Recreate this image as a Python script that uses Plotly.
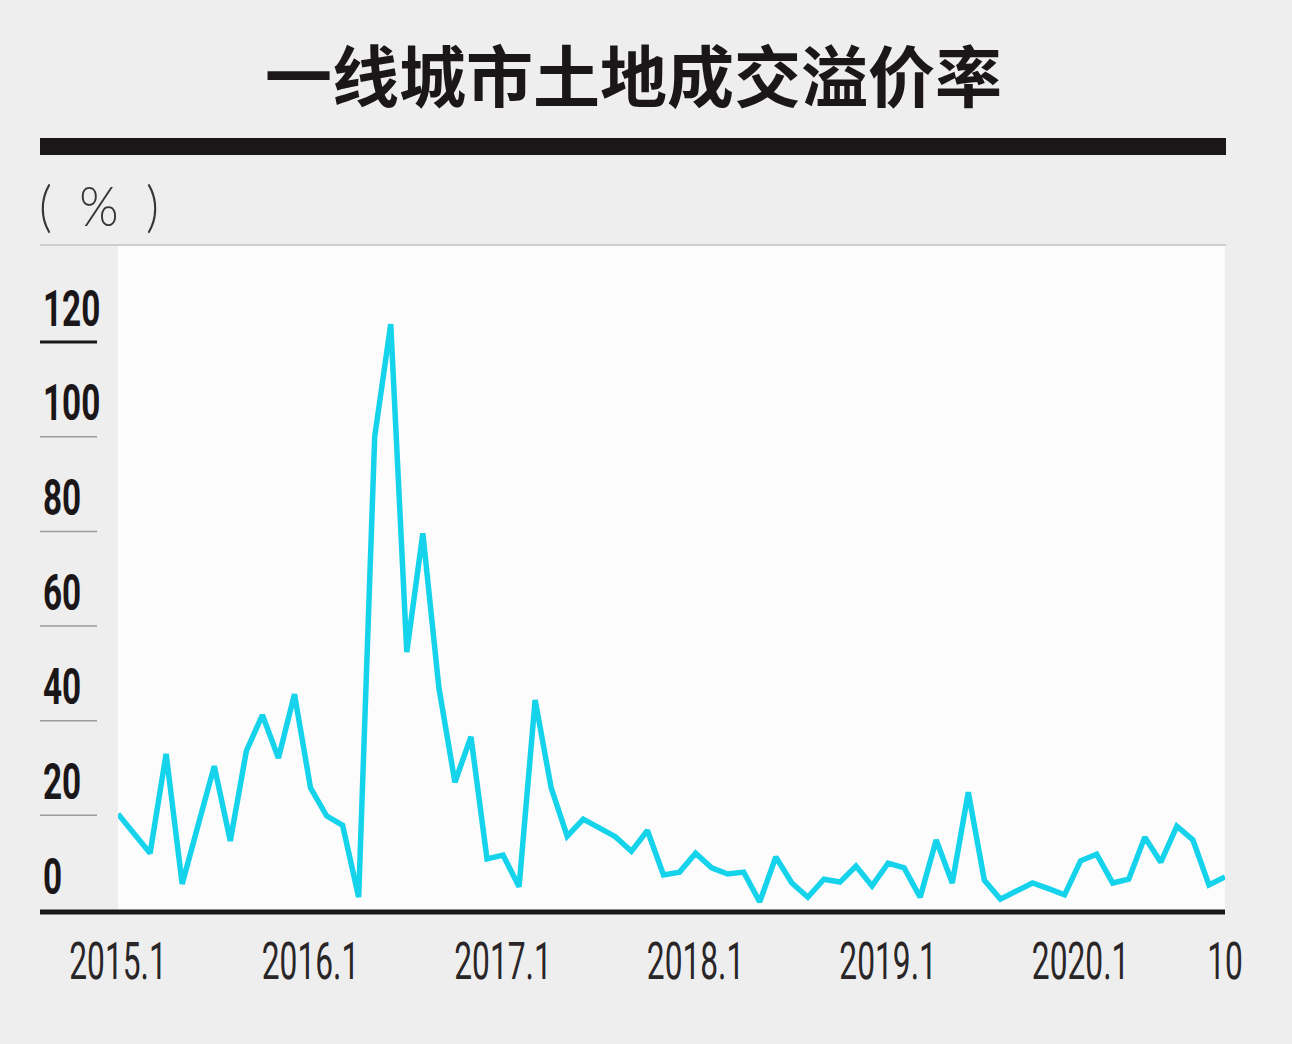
import plotly.graph_objects as go

# ---- data ----
months = list(range(70))  # 2015.1 .. 2020.10
premium = [20.3, 16.1, 12.0, 33.0, 5.5, 18.0, 30.4, 14.6, 33.6, 41.2,
           32.1, 45.6, 25.8, 19.9, 17.9, 2.7, 100.0, 123.8, 54.5, 79.6,
           47.0, 27.0, 36.6, 10.8, 11.6, 4.9, 44.4, 25.8, 15.6, 19.2,
           17.2, 15.5, 12.4, 16.8, 7.4, 8.0, 12.0, 8.9, 7.6, 8.0,
           1.7, 11.2, 5.7, 2.7, 6.5, 5.9, 9.3, 5.1, 9.9, 8.9,
           2.7, 14.8, 5.7, 24.9, 6.3, 2.3, 4.0, 5.7, 4.5, 3.2,
           10.4, 11.8, 5.7, 6.5, 15.4, 10.1, 17.7, 14.8, 5.3, 7.0]
x_tickvals = [0, 12, 24, 36, 48, 60, 69]
x_ticktext = ["2015.1", "2016.1", "2017.1", "2018.1", "2019.1", "2020.1", "10"]
y_ticks = [0, 20, 40, 60, 80, 100, 120]
title_text = "一线城市土地成交溢价率"
unit_text = "(&nbsp;&nbsp;%&nbsp;&nbsp;)"

# ---- geometry helpers (pixel -> paper) ----
W, H = 1292, 1044
L, R, T, B = 118, 1225, 246, 910
def xp(px):
    return (px - L) / (R - L)
def yp(py):
    return (B - py) / (B - T)

NUMFONT = "Roboto, Liberation Sans, sans-serif"

fig = go.Figure()
fig.add_trace(go.Scatter(
    x=months, y=premium, mode="lines",
    line=dict(color="#14d3ea", width=5.5),
    hoverinfo="skip", showlegend=False,
))

shapes = []
annotations = []

# thick title bar
shapes.append(dict(type="rect", xref="paper", yref="paper",
                   x0=xp(40), x1=xp(1226), y0=yp(155), y1=yp(138),
                   fillcolor="#1b1718", line=dict(width=0), layer="above"))
# thin gray top line
shapes.append(dict(type="line", xref="paper", yref="paper",
                   x0=xp(40), x1=xp(1226), y0=yp(245), y1=yp(245),
                   line=dict(color="#cfcdcf", width=2)))
# bottom axis line
shapes.append(dict(type="rect", xref="paper", yref="paper",
                   x0=xp(40), x1=xp(1225), y0=yp(914.5), y1=yp(909.5),
                   fillcolor="#1b1718", line=dict(width=0), layer="above"))

# y tick labels + underlines
for v in y_ticks:
    annotations.append(dict(
        x=xp(41), xref="paper", y=v, yref="y", yshift=33,
        xanchor="left", yanchor="middle", align="left", showarrow=False,
        text="<b>%d</b>" % v,
        font=dict(family=NUMFONT, size=49, color="#1b1718"),
    ))
    if v == 0:
        continue
    if v == 120:
        ln = dict(color="#1b1718", width=3)
    else:
        ln = dict(color="#9c9a9c", width=1.5)
    shapes.append(dict(type="line", xref="paper", yref="y",
                       x0=xp(40), x1=xp(97), y0=v, y1=v, line=ln))

# unit label
annotations.append(dict(
    x=xp(37), xref="paper", y=yp(205), yref="paper",
    xanchor="left", yanchor="middle", align="left", showarrow=False,
    text=unit_text,
    font=dict(family="Lato, Noto Sans, sans-serif", size=56, color="#3a3637", weight=300),
))
# title
annotations.append(dict(
    x=xp(633), xref="paper", y=yp(72), yref="paper",
    xanchor="center", yanchor="middle", showarrow=False,
    text="<b>%s</b>" % title_text,
    font=dict(family="Noto Sans CJK SC, sans-serif", size=67, color="#1b1718"),
))

fig.update_layout(
    width=W, height=H,
    margin=dict(l=L, r=W - R, t=T, b=H - B, pad=0),
    paper_bgcolor="#efeeef",
    plot_bgcolor="#fdfcfd",
    shapes=shapes,
    annotations=annotations,
    xaxis=dict(range=[0, 69], showgrid=False, zeroline=False, showline=False,
               tickmode="array", tickvals=x_tickvals, ticktext=x_ticktext,
               ticks="", ticklabelstandoff=16,
               tickfont=dict(family=NUMFONT, size=52, color="#2a2627"),
               fixedrange=True),
    yaxis=dict(range=[0, 140.3], showgrid=False, zeroline=False, showline=False,
               showticklabels=False, ticks="", fixedrange=True),
)

# horizontally condense the numeric labels (they are set in a condensed face in the original)
post = """
document.body.style.margin='0';document.body.style.overflow='hidden';
function squeeze(el, s, mode){
  var bb = el.getBBox();
  var ax = mode === 'left' ? bb.x : bb.x + bb.width/2;
  var t = el.getAttribute('transform') || '';
  el.setAttribute('transform', t + ' translate(' + ax + ',0) scale(' + s + ',1) translate(' + (-ax) + ',0)');
}
document.querySelectorAll('.xtick text').forEach(function(el){ squeeze(el, 0.61, 'mid'); });
document.querySelectorAll('.annotation-text').forEach(function(el){
  if (/^\\d+$/.test(el.textContent.trim())) { squeeze(el, 0.68, 'left'); }
  else if (el.textContent.indexOf('%') >= 0) { squeeze(el, 0.9, 'left'); }
});
"""

fig.write_html("out.html", config={"displayModeBar": False}, post_script=post)
